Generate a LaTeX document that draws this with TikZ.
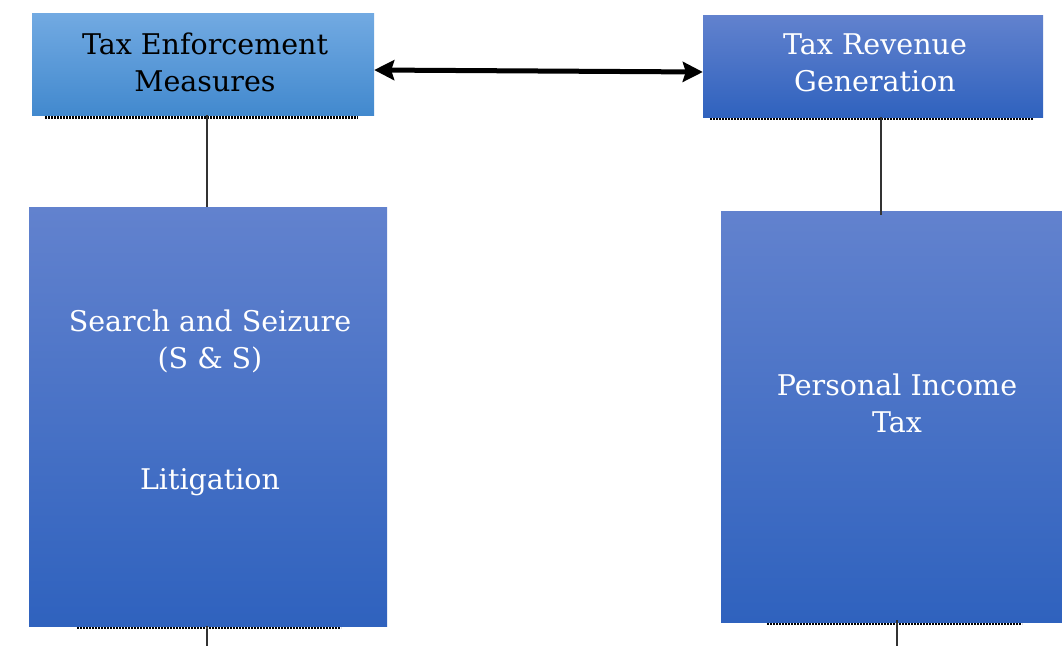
\documentclass[tikz,border=0pt]{standalone}
\usepackage{fontspec}
\setmainfont{DejaVu Serif}
\usetikzlibrary{arrows.meta}
\definecolor{lbtop}{RGB}{114,170,226}
\definecolor{lbbot}{RGB}{66,137,206}
\definecolor{dbtop}{RGB}{98,130,206}
\definecolor{dbbot}{RGB}{47,98,190}
\tikzset{
  lightbox/.style={rectangle, inner sep=0pt, top color=lbtop, bottom color=lbbot, draw=none},
  darkbox/.style={rectangle, inner sep=0pt, top color=dbtop, bottom color=dbbot, draw=none},
  lbl/.style={font=\fontsize{28.5}{37}\selectfont, align=center, inner sep=0pt},
  wlbl/.style={lbl, text=white},
  shadowline/.style={draw=black, line width=4pt, dash pattern=on 2pt off 1pt},
  conn/.style={draw=black!80, line width=2pt},
  dbl/.style={line width=5pt, {Stealth[length=20pt,width=20pt,inset=3pt]}-{Stealth[length=20pt,width=20pt,inset=3pt]}}
}
\begin{document}
\begin{tikzpicture}[x=1pt,y=-1pt]
\useasboundingbox (0,0) rectangle (1062,646);
% shadows
\coordinate (s1a) at (45,116.5); \coordinate (s1b) at (358,116.5);
\coordinate (s2a) at (710,117.5); \coordinate (s2b) at (1033,117.5);
\coordinate (s3a) at (77,626.5); \coordinate (s3b) at (341,626.5);
\coordinate (s4a) at (767,622.5); \coordinate (s4b) at (1022,622.5);
\draw[shadowline] (s1a) -- (s1b);
\draw[shadowline] (s2a) -- (s2b);
\draw[shadowline] (s3a) -- (s3b);
\draw[shadowline] (s4a) -- (s4b);
% boxes
\node[lightbox, minimum width=342pt, minimum height=102pt] (tem) at (203,64) {};
\node[darkbox, minimum width=340pt, minimum height=102pt] (trg) at (873,66) {};
\node[darkbox, minimum width=358pt, minimum height=419pt] (ss) at (208,416.5) {};
\node[darkbox, minimum width=341pt, minimum height=411pt] (pit) at (891.5,416.5) {};
% texts
\node[lbl] (temt) at (205,62) {Tax Enforcement\\Measures};
\node[wlbl] (trgt) at (875,63) {Tax Revenue\\Generation};
\node[wlbl] (sst) at (210,341) {Search and Seizure\\(S \& S)};
\node[wlbl] (lit) at (210,482) {Litigation};
\node[wlbl] (pitt) at (897,403) {Personal Income\\Tax};
% connectors
\draw[dbl] ([yshift=-6pt]tem.east) -- ([yshift=-6pt]trg.west);
\coordinate (tl) at (207,115); \coordinate (tlb) at (207,207);
\draw[conn] (tl) -- (tlb);
\coordinate (tr) at (881,117); \coordinate (trb) at (881,215);
\draw[conn] (tr) -- (trb);
\coordinate (bl) at (207,626); \coordinate (blb) at (207,646);
\draw[conn] (bl) -- (blb);
\coordinate (br) at (897,620); \coordinate (brb) at (897,646);
\draw[conn] (br) -- (brb);
\end{tikzpicture}
\end{document}
